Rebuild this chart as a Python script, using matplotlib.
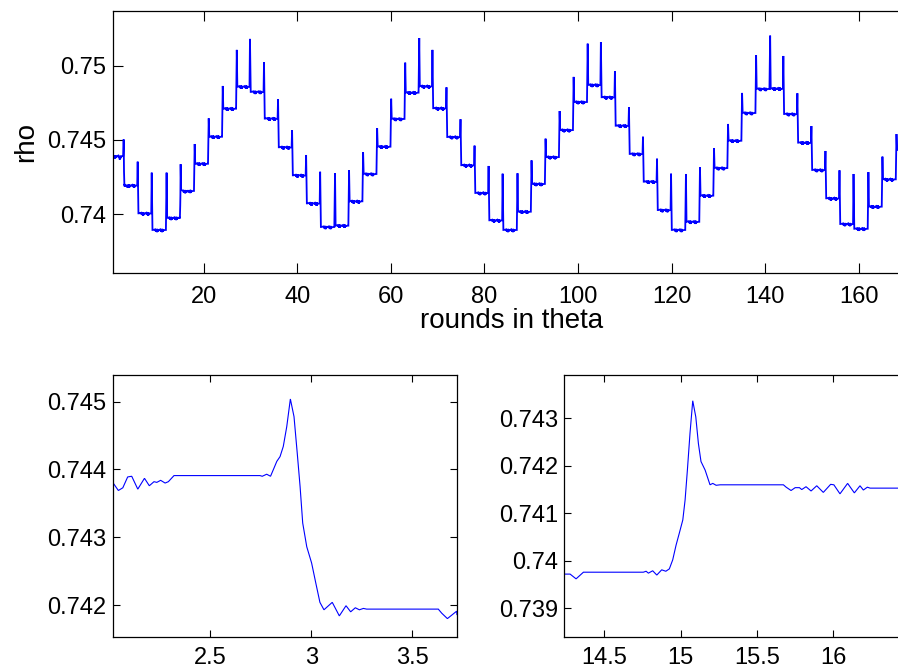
import matplotlib
matplotlib.use("Agg")
import matplotlib.pyplot as plt
from matplotlib.ticker import FixedLocator, FixedFormatter

plt.rcParams["font.family"] = ["Liberation Sans", "DejaVu Sans"]

# ---- data -------------------------------------------------------------
STEP = 3.0  # rounds per theta setting

# plateau level of rho for each theta setting (setting k covers [3k, 3k+3))
levels = [0.74391, 0.74194, 0.74006, 0.73894, 0.73975, 0.74157, 0.74340, 0.74522, 0.74711, 0.74859,
          0.74824, 0.74644, 0.74451, 0.74262, 0.74073, 0.73914, 0.73923, 0.74087, 0.74271, 0.74455,
          0.74642, 0.74819, 0.74862, 0.74714, 0.74520, 0.74330, 0.74143, 0.73959, 0.73894, 0.74017,
          0.74204, 0.74385, 0.74567, 0.74756, 0.74871, 0.74788, 0.74596, 0.74406, 0.74219, 0.74028,
          0.73894, 0.73949, 0.74125, 0.74311, 0.74495, 0.74682, 0.74844, 0.74846, 0.74675, 0.74482,
          0.74298, 0.74107, 0.73934, 0.73902, 0.74051, 0.74235, 0.74433]

# overshoot peak at each switch of theta (switch j happens at round 3j, j = 1..56)
spike_peaks = [0.74505, 0.74354, 0.74280, 0.74280, 0.74338, 0.74473, 0.74646, 0.74864, 0.75107,
               0.75181, 0.75024, 0.74774, 0.74567, 0.74399, 0.74286, 0.74276, 0.74296, 0.74417,
               0.74579, 0.74778, 0.75021, 0.75187, 0.75107, 0.74855, 0.74640, 0.74462, 0.74325, 0.74273,
               0.74276, 0.74363, 0.74509, 0.74695, 0.74925, 0.75149, 0.75160, 0.74963, 0.74720,
               0.74522, 0.74374, 0.74273, 0.74271, 0.74316, 0.74446, 0.74608, 0.74817, 0.75071,
               0.75203, 0.75066, 0.74815, 0.74594, 0.74426, 0.74296, 0.74271, 0.74284, 0.74388, 0.74540]

# small ripple seen on each plateau (offset in rounds, deviation in units of 1e-4)
ripple_dx = [0.0, 0.018, 0.05, 0.077, 0.105, 0.12, 0.148, 0.181, 0.218, 0.261,
             0.309, 0.33, 0.37, 0.42, 0.464, 0.501, 0.523, 0.549, 0.567]
ripple_dy = [0.4, -0.1, -0.8, -0.2, -0.2, -0.6, 0.0, -0.9, 0.2, -1.2,
             0.5, 0.4, -1.5, 0.7, -1.3, 0.2, -0.7, -0.1, -0.3]
ripple_starts = [0.67, 1.75]

# finely resolved samples around the first down switch (round 3)
detail_a_x = [2.019, 2.047, 2.069, 2.093, 2.113, 2.143, 2.176, 2.200, 2.223, 2.237,
              2.256, 2.278, 2.294, 2.322, 2.747, 2.758, 2.780, 2.799, 2.816, 2.830,
              2.846, 2.862, 2.879, 2.897, 2.915, 2.931, 2.945, 2.958, 2.978, 3.002,
              3.023, 3.043, 3.063, 3.104, 3.139, 3.172, 3.195, 3.218, 3.238, 3.258,
              3.274, 3.628, 3.645, 3.673, 3.694, 3.719]
detail_a_y = [0.74381, 0.74369, 0.74373, 0.74389, 0.74390, 0.74371, 0.74387, 0.74376, 0.74382, 0.74381,
              0.74384, 0.74380, 0.74382, 0.74391, 0.74391, 0.74390, 0.74393, 0.74390, 0.74402, 0.74412,
              0.74419, 0.74434, 0.74463, 0.74504, 0.74478, 0.74424, 0.74375, 0.74321, 0.74286, 0.74262,
              0.74232, 0.74204, 0.74193, 0.74204, 0.74184, 0.74199, 0.74190, 0.74196, 0.74193, 0.74195,
              0.74194, 0.74194, 0.74188, 0.74180, 0.74185, 0.74191]

# finely resolved samples around the first up switch after the minimum (round 15)
detail_b_x = [14.238, 14.278, 14.317, 14.365, 14.757, 14.775, 14.790, 14.818, 14.845, 14.877,
              14.904, 14.927, 14.949, 14.971, 14.992, 15.015, 15.030, 15.045, 15.062, 15.080,
              15.100, 15.117, 15.134, 15.161, 15.193, 15.211, 15.233, 15.259, 15.673, 15.691,
              15.723, 15.750, 15.778, 15.793, 15.821, 15.854, 15.891, 15.934, 15.982, 16.003,
              16.043, 16.093, 16.137, 16.174, 16.196, 16.222, 16.240, 16.520]
detail_b_y = [0.73972, 0.73972, 0.73962, 0.73976, 0.73976, 0.73978, 0.73974, 0.73979, 0.73970, 0.73981,
              0.73978, 0.73983, 0.74002, 0.74033, 0.74058, 0.74086, 0.74128, 0.74191, 0.74268, 0.74337,
              0.74303, 0.74247, 0.74209, 0.74191, 0.74160, 0.74163, 0.74159, 0.74160, 0.74160, 0.74155,
              0.74148, 0.74154, 0.74154, 0.74150, 0.74156, 0.74147, 0.74158, 0.74144, 0.74161, 0.74160,
              0.74141, 0.74163, 0.74143, 0.74158, 0.74149, 0.74155, 0.74153, 0.74153]

top_xticks = [20, 40, 60, 80, 100, 120, 140, 160]
top_xlabels = ["20", "40", "60", "80", "100", "120", "140", "160"]
top_yticks = [0.74, 0.745, 0.75]
top_ylabels = ["0.74", "0.745", "0.75"]
a_xticks = [2.5, 3.0, 3.5]
a_xlabels = ["2.5", "3", "3.5"]
a_yticks = [0.742, 0.743, 0.744, 0.745]
a_ylabels = ["0.742", "0.743", "0.744", "0.745"]
b_xticks = [14.5, 15.0, 15.5, 16.0]
b_xlabels = ["14.5", "15", "15.5", "16"]
b_yticks = [0.739, 0.740, 0.741, 0.742, 0.743]
b_ylabels = ["0.739", "0.74", "0.741", "0.742", "0.743"]

# ---- assemble the rho trace -----------------------------------------
x_first, x_last = 0.5, 171.5
pts = []
n = len(levels)
for k, lev in enumerate(levels):
    a, b = k * STEP, (k + 1) * STEP
    lo = x_first if k == 0 else a + 0.2
    hi = x_last if k == n - 1 else b - 0.2
    pts.append((lo, lev))
    for off in ripple_starts:
        s = a + off
        if lo < s and s + ripple_dx[-1] < hi:
            pts.extend((s + dx, lev + dy * 1e-4) for dx, dy in zip(ripple_dx, ripple_dy))
    pts.append((hi, lev))

for j in range(1, n):
    prev, new, peak, t = levels[j - 1], levels[j], spike_peaks[j - 1], j * STEP
    if new < prev:
        pts += [(t - 0.10, peak), (t + 0.06, new)]
    else:
        pts += [(t - 0.07, prev), (t + 0.08, peak), (t + 0.19, new)]

for dx_list, dy_list in ((detail_a_x, detail_a_y), (detail_b_x, detail_b_y)):
    lo, hi = dx_list[0], dx_list[-1]
    pts = [p for p in pts if not (lo <= p[0] <= hi)]
    pts.extend(zip(dx_list, dy_list))

pts.sort(key=lambda p: p[0])
rounds = [p[0] for p in pts]
rho = [p[1] for p in pts]

# ---- figure -----------------------------------------------------------
W, H = 898, 668
fig = plt.figure(figsize=(W / 100, H / 100), dpi=100)


def axes_px(left, top, right, bottom):
    return fig.add_axes([left / W, 1 - bottom / H, (right - left) / W, (bottom - top) / H])


LINE = "#0000ff"
TICK_FS = 17
LABEL_FS = 20


def style(ax, xt, xl, yt, yl, ticklen, lw, xpad):
    ax.plot(rounds, rho, color=LINE, lw=lw, solid_joinstyle="miter")
    ax.xaxis.set_major_locator(FixedLocator(xt))
    ax.xaxis.set_major_formatter(FixedFormatter(xl))
    ax.yaxis.set_major_locator(FixedLocator(yt))
    ax.yaxis.set_major_formatter(FixedFormatter(yl))
    ax.tick_params(direction="in", top=True, right=True, length=ticklen, width=0.8,
                   labelsize=TICK_FS, colors="black")
    ax.tick_params(axis="x", pad=xpad)
    ax.tick_params(axis="y", pad=4.5)
    for sp in ax.spines.values():
        sp.set_linewidth(0.9)
        sp.set_color("black")


# axes extend a little past the right edge of the canvas
ax_top = axes_px(112.7, 11, 910, 273.3)
style(ax_top, top_xticks, top_xlabels, top_yticks, top_ylabels, 7, 1.3, 9)
ax_top.set_xlim(0.56, 170.97)
ax_top.set_ylim(0.73602, 0.75369)
ax_top.set_xlabel("rounds in theta", fontsize=LABEL_FS, labelpad=0)
ax_top.set_ylabel("rho", fontsize=LABEL_FS, labelpad=6)

ax_a = axes_px(112.7, 375, 456.7, 636.7)
style(ax_a, a_xticks, a_xlabels, a_yticks, a_ylabels, 5, 0.8, 7.5)
ax_a.set_xlim(2.019, 3.719)
ax_a.set_ylim(0.741533, 0.745394)

ax_b = axes_px(564, 375, 910, 636.7)
style(ax_b, b_xticks, b_xlabels, b_yticks, b_ylabels, 5, 0.8, 7.5)
ax_b.set_xlim(14.238, 16.501)
ax_b.set_ylim(0.738402, 0.743912)

fig.savefig("out.png", dpi=100)
